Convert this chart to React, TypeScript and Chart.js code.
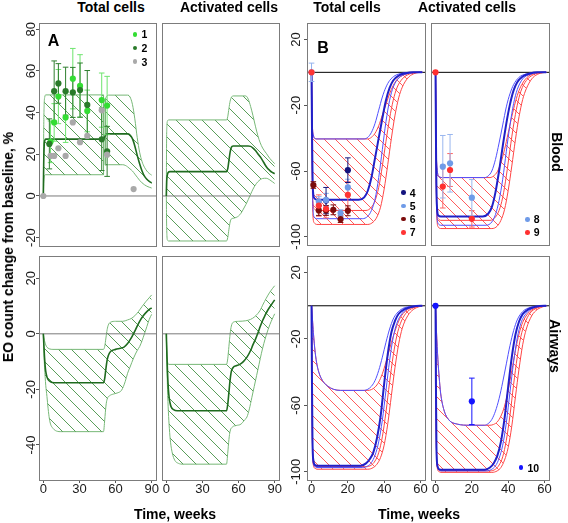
import React, { useEffect, useRef } from 'react';
import { Chart, registerables } from 'chart.js';

Chart.register(...registerables);

type XY = [number, number];
const FONT = 'Arial, "Liberation Sans", Helvetica, sans-serif';

// ---------------- axis ticks & ranges ----------------
const A_X_TICKS = [0, 30, 60, 90];
const B_X_TICKS = [0, 20, 40, 60];
const A_TOP_Y_TICKS = [-20, 0, 20, 40, 60, 80];
const A_BOT_Y_TICKS = [-40, -20, 0, 20];
const B_Y_TICKS = [-100, -60, -20, 20];
const A_X_RANGE: XY = [-3.6, 93.6];
const B_X_RANGE: XY = [-2.5, 62.5];
const A_TOP_Y_RANGE: XY = [-24, 83];
const A_BOT_Y_RANGE: XY = [-52.6, 28];
const B_Y_RANGE: XY = [-105, 30];

// ---------------- observed data: panel A (blood, total cells) ----------------
const s1_x = [6, 9, 12.5, 18.5, 24.5, 30.5, 36.5, 48.5, 53];
const s1_y = [26, 35.3, 47.7, 37.7, 56.3, 52.8, 40.8, 46, 43.4];
const s1_e = [10, 9, 13, 12, 14.5, 15, 10, 13, 14];
const s2_x = [5, 9, 12.5, 18.5, 24.5, 30.5, 36.5, 48.5, 53];
const s2_y = [25, 50.3, 54, 50.3, 49.7, 50.8, 43.7, 27.2, 21.4];
const s2_e = [12, 14.5, 9.5, 11.5, 12, 13, 16.5, 15, 12];
const s3_x = [0, 6, 9, 12.5, 18.5, 24.5, 30.5, 36.5, 48.5, 53, 75];
const s3_y = [0, 19.2, 19.2, 22.9, 19.2, 35.3, 25.8, 28.8, 41.1, 19.8, 3.3];

// ---------------- observed data: panel B ----------------
const s4_x = [8, 20];
const s4_y = [-78, -59.5];
const s4_e = [8, 7.5];
const s5_x = [0, 4, 8, 16, 20];
const s5_y = [0, -78.6, -77.6, -85.6, -70];
const s5_e = [5.6, 3, 4, 2, 5];
const s6_x = [1, 4, 8, 12, 16, 20];
const s6_y = [-68.5, -84, -84, -83.6, -89.3, -84.2];
const s6_e = [2, 3, 3, 3, 2, 3];
const s7_x = [0, 4, 8, 20];
const s7_y = [0, -81, -83, -74.5];
const s7_e = [0, 6.5, 5.5, 8];
const s8_x = [4, 8, 20];
const s8_y = [-57.4, -55.3, -76.2];
const s8_e = [19, 17.5, 11];
const s9_x = [0, 4, 8, 20];
const s9_y = [0, -69.5, -59.4, -89.1];
const s9_e = [0, 13, 10, 5];
const s10_x = [0, 20];
const s10_y = [0, -57.6];
const s10_e = [0, 14];

// ---------------- model curves: panel A ----------------
const A1_up1: XY[] = [[0,0],[0.3,30],[0.7,44],[1.2,47.5],[2,48.5],[50,48.5]];
const A1_lo1: XY[] = [[0,0],[0.3,6],[0.7,9],[1.2,10],[2,10.2],[50,10.2]];
const A1_up2: XY[] = [[51.5,46.5],[52.5,47.8],[54,48.4],[70,48.4],[72,47.5],[74,44],[76,37],[78,28],[80,21],[82,16.5],[84,13.8],[86,12],[88,10.8],[90,10]];
const A1_lo2: XY[] = [[51.5,14.8],[54,15],[66,15],[68,14.7],[70,14],[72,13],[74,12],[76,10.5],[78,9],[80,7.5],[82,6.3],[84,5.4],[86,4.7],[88,4.2],[90,3.8]];
const A1_med: XY[] = [[0,0],[0.3,15],[0.7,24],[1.2,26.5],[2,27.3],[50,27.3],[51,28.4],[52,29.5],[53,29.8],[70,29.8],[72,29.2],[74,27.5],[76,24],[78,19.5],[80,15.5],[82,12],[84,9.5],[86,8],[88,7],[90,6.3]];

const A2_up: XY[] = [[0,0],[0.2,25],[0.5,34],[1,36],[2,36.5],[50,36.5],[51,38],[52,42],[53,45.5],[54,47.3],[55.5,48],[66,48],[68,46.5],[70,43],[72,38.5],[74,33.5],[76,29],[78,25.5],[80,23],[83,20.5],[86,18],[90,15.5]];
const A2_med: XY[] = [[0,0],[0.3,7],[0.8,10],[1.5,11.3],[3,11.7],[50,11.7],[51,13],[52,17],[53,21],[54,23.3],[55.5,24],[68,24],[70,23.8],[72,23],[74,21.8],[76,20.3],[78,18.8],[80,17],[82,15],[84,13.3],[86,12.2],[88,11.3],[90,10.7]];
const A2_lo: XY[] = [[0,0],[0.2,-12],[0.5,-19],[1,-21.2],[2,-21.6],[50,-21.6],[51,-20],[52,-16],[53,-12.5],[54,-11],[55.5,-10.7],[58,-10.3],[60,-9.6],[62,-8.3],[64,-6.3],[66,-4.2],[68,-1.8],[70,0.8],[72,3.3],[74,5.3],[76,6.8],[78,7.8],[80,8.4],[83,8.5],[86,7.7],[90,6]];

const A3_up: XY[] = [[0,0],[1,-2.5],[2,-4],[3,-4.8],[5,-5.4],[8,-5.6],[50,-5.6],[51,-4.5],[52,-1.5],[53,1.5],[54,3.2],[56,4.2],[60,4.5],[66,4.5],[70,5],[73,5.5],[76,6.5],[79,8],[82,9.8],[85,11.5],[88,13],[90,14]];
const A3_med: XY[] = [[0,0],[0.5,-4.5],[1,-8.5],[1.5,-11.5],[2,-13.5],[3,-15.5],[4,-16.5],[6,-17.3],[9,-17.6],[50,-17.6],[51,-16],[52,-12.5],[53,-9.5],[54,-7.8],[56,-6.3],[60,-5.6],[64,-5.2],[67,-4.8],[70,-3.5],[72,-2.2],[74,-0.7],[76,1],[78,2.8],[80,4.5],[83,6.5],[86,8],[88,8.8],[90,9.3]];
const A3_lo: XY[] = [[0,0],[0.5,-7],[1,-12],[1.5,-15.5],[2,-18.5],[3,-22.5],[4,-27],[5,-30.5],[6,-32.5],[8,-34],[10,-34.8],[14,-35.2],[50,-35.2],[51,-31],[52,-26],[53,-23.5],[55,-22.3],[58,-21.7],[62,-21.2],[65,-20.3],[68,-17.2],[70,-14.2],[72,-12],[75,-8.7],[78,-6],[80,-4.6],[82,-2.5],[84,0],[86,2.6],[88,5.2],[90,7]];

const A4_up: XY[] = [[0,0],[0.3,-5],[0.7,-9],[1.2,-10.5],[2,-11],[50,-11],[51,-9],[52,-4.5],[53,0],[54,2.8],[55.7,4.2],[60,4.5],[66,4.7],[70,5.2],[73,6],[76,7.3],[78,8.5],[80,10.3],[83,12.8],[86,15],[88,16.2],[90,17.3]];
const A4_med: XY[] = [[0,0],[0.5,-8],[1,-14],[1.7,-20],[2.5,-23.5],[3,-24.7],[4,-26.3],[6,-27.3],[9,-27.7],[50,-27.7],[51,-25.5],[52,-21],[53,-16.5],[54,-13.5],[55.7,-12],[58,-11.5],[61,-11],[64,-10],[67,-8.4],[70,-6],[72,-3.9],[74,-2],[76,0.2],[78,2.6],[80,4.8],[82,6.6],[84,8.3],[87,10.3],[90,12.2]];
const A4_lo: XY[] = [[0,0],[0.5,-12],[1,-20],[1.7,-28],[2.5,-34],[3.5,-39],[5,-43],[7,-45.5],[10,-46.6],[14,-46.9],[50,-46.9],[51,-43],[52,-38],[53,-35],[55,-33.5],[58,-33],[62,-32.5],[65,-31],[67,-29.9],[69,-27],[71,-23],[73,-19],[75,-15],[77,-11],[79,-7],[81,-3.5],[83,-0.5],[86,3.3],[90,7.2]];

// ---------------- model curves: panel B ----------------
const B1_bUp: XY[] = [[0,0],[0.4,-30],[1,-38],[2,-40.3],[3,-40.5],[29,-40.5],[31,-39.5],[33,-36.5],[35,-31],[37,-23],[39,-15],[41,-9],[43,-5],[46,-2],[50,-0.5],[55,0],[61,0]];
const B1_bMed: XY[] = [[0,0],[0.3,-40],[0.7,-70],[1.5,-76.5],[3,-77.5],[26,-77.5],[29,-76],[31,-72],[33,-64],[35,-52],[37,-40],[39,-28],[41,-17],[43,-9.5],[45,-5],[48,-2],[52,-0.5],[56,0],[61,0]];
const B1_bLo: XY[] = [[0,0],[0.3,-45],[0.7,-80],[1.5,-88],[3,-89],[28,-89],[31,-87.5],[33,-84],[35,-77],[37,-64],[39,-47],[41,-30],[43,-17],[45,-9],[48,-3.5],[52,-1],[56,-0.2],[61,0]];
const B1_rUp: XY[] = [[0,0],[0.4,-30],[1,-38],[2,-40.3],[3,-40.5],[31,-40.5],[33,-39.5],[35,-37],[37,-32.5],[39,-26],[41,-19.5],[43,-13],[45,-8],[47,-4.5],[50,-2],[54,-0.5],[58,0],[61,0]];
const B1_rMed: XY[] = [[0,0],[0.3,-45],[0.7,-78],[1.5,-83],[3,-84],[30,-84],[33,-82],[35,-78],[37,-70],[39,-57],[41,-42],[43,-28],[45,-17],[47,-9.5],[50,-4],[54,-1],[58,-0.2],[61,0]];
const B1_rLo: XY[] = [[0,0],[0.3,-50],[0.7,-86],[1.5,-91.5],[3,-92.5],[31,-92.5],[34,-91],[36,-88],[38,-82],[40,-71],[42,-56],[44,-40],[46,-26],[48,-15.5],[50,-9],[53,-3.5],[56,-1],[60,0],[61,0]];

const B2_bUp: XY[] = [[0,0],[0.3,-40],[0.8,-58],[2,-63.5],[4,-64],[27,-64],[29,-63],[31,-60],[33,-53],[35,-43],[37,-32],[39,-21],[41,-13],[43,-7.5],[46,-3],[50,-1],[54,-0.2],[61,0]];
const B2_bMed: XY[] = [[0,0],[0.3,-50],[0.7,-80],[1.5,-87],[3,-87.7],[26,-87.7],[29,-86],[31,-82],[33,-73],[35,-60],[37,-45],[39,-31],[41,-19.5],[43,-11],[45,-6],[48,-2.5],[52,-0.7],[56,0],[61,0]];
const B2_bLo: XY[] = [[0,0],[0.3,-52],[0.7,-85],[1.5,-92],[3,-93],[28,-93],[31,-91],[33,-86.5],[35,-78],[37,-65],[39,-48],[41,-32],[43,-19],[45,-10.5],[48,-4],[52,-1.2],[56,-0.2],[61,0]];
const B2_rUp: XY[] = [[0,0],[0.3,-40],[0.8,-58],[2,-63.5],[4,-64],[30,-64],[32,-63],[34,-60.5],[36,-55],[38,-47],[40,-37],[42,-27],[44,-18],[46,-11],[48,-6.5],[51,-2.5],[55,-0.6],[59,0],[61,0]];
const B2_rMed: XY[] = [[0,0],[0.3,-52],[0.7,-84],[1.5,-89],[3,-90],[30,-90],[33,-88],[35,-84],[37,-76],[39,-63],[41,-47],[43,-32],[45,-20],[47,-11.5],[50,-5],[54,-1.4],[58,-0.2],[61,0]];
const B2_rLo: XY[] = [[0,0],[0.3,-55],[0.7,-88],[1.5,-94],[3,-95],[31,-95],[34,-93.5],[36,-90],[38,-83.5],[40,-72],[42,-57],[44,-41],[46,-27],[48,-16.5],[50,-10],[53,-4],[56,-1.3],[60,-0.1],[61,0]];

const B3_bUp: XY[] = [[0,0],[0.5,-8],[1,-16],[2,-28],[3,-35.5],[4,-40],[5,-43],[7,-46.5],[9,-48.5],[12,-50.3],[16,-51],[29,-51],[31,-50.3],[33,-48.5],[35,-45],[37,-39],[39,-31],[41,-22],[43,-14],[45,-8],[47,-4.5],[50,-1.8],[54,-0.4],[58,0],[61,0]];
const B3_bMed: XY[] = [[0,0],[0.2,-40],[0.5,-80],[1,-93],[2,-96],[3,-96.4],[27,-96.4],[30,-95],[32,-92.5],[34,-88.5],[36,-80],[38,-67],[40,-47],[42,-29],[44,-16],[46,-9],[48,-4.8],[51,-2.2],[55,-0.7],[60,0],[61,0]];
const B3_bLo: XY[] = [[0,0],[0.2,-42],[0.5,-82],[1,-95],[2,-97],[3,-97.5],[28,-97.5],[31,-96.5],[33,-94.5],[35,-90],[37,-82],[39,-69],[41,-51],[43,-33],[45,-19],[47,-10.5],[50,-4.5],[54,-1.3],[58,-0.2],[61,0]];
const B3_rUp: XY[] = [[0,0],[0.5,-8],[1,-16],[2,-28],[3,-35.5],[4,-40],[5,-43],[7,-46.5],[9,-48.5],[12,-50.3],[16,-51],[31,-51],[33,-50.5],[35,-49],[37,-46],[39,-41],[41,-34],[43,-26],[45,-18.5],[47,-12],[49,-7],[52,-3],[56,-0.8],[60,0],[61,0]];
const B3_rMed: XY[] = [[0,0],[0.2,-42],[0.5,-82],[1,-95],[2,-96.5],[3,-97],[30,-97],[33,-96],[35,-93.5],[37,-88.5],[39,-79],[41,-64],[43,-46],[45,-30],[47,-18],[49,-10.5],[52,-4.5],[56,-1.3],[60,-0.1],[61,0]];
const B3_rLo: XY[] = [[0,0],[0.2,-42],[0.5,-83],[1,-96],[2,-98],[3,-98.5],[31,-98.5],[34,-97.5],[36,-95.5],[38,-91.5],[40,-84],[42,-71],[44,-54],[46,-37],[48,-23],[50,-13.5],[53,-6],[56,-2.3],[60,-0.3],[61,0]];

const B4_bUp: XY[] = [[0,0],[0.5,-15],[1.3,-32.5],[2,-43],[2.8,-52.6],[4.6,-62.7],[7.3,-68.7],[11.9,-71.3],[19,-72],[27,-72],[29,-71],[31,-68.5],[33,-63.5],[35,-56],[37,-46],[39,-35],[41,-24],[43,-15],[45,-8.5],[48,-3.5],[52,-1],[56,-0.2],[61,0]];
const B4_bMed: XY[] = [[0,0],[0.2,-45],[0.5,-85],[1,-96],[2,-98.5],[3,-98.8],[27,-98.8],[30,-97.5],[32,-95],[34,-90.5],[36,-82],[38,-68],[40,-49],[42,-31],[44,-17.5],[46,-9.5],[48,-5],[51,-2.2],[55,-0.6],[60,0],[61,0]];
const B4_bLo: XY[] = [[0,0],[0.2,-45],[0.5,-86],[1,-97],[2,-99],[3,-99.5],[28,-99.5],[31,-98.5],[33,-96.5],[35,-92],[37,-84],[39,-70.5],[41,-52],[43,-34],[45,-19.5],[47,-10.5],[50,-4.5],[54,-1.3],[58,-0.2],[61,0]];
const B4_rUp: XY[] = [[0,0],[0.5,-15],[1.3,-32.5],[2,-43],[2.8,-52.6],[4.6,-62.7],[7.3,-68.7],[11.9,-71.3],[19,-72],[30,-72],[32,-71.5],[34,-70],[36,-66.5],[38,-60.5],[40,-51],[42,-39],[44,-27],[46,-17],[48,-10],[51,-4.5],[55,-1.3],[59,-0.2],[61,0]];
const B4_rMed: XY[] = [[0,0],[0.2,-45],[0.5,-86],[1,-97],[2,-99],[3,-99.5],[30,-99.5],[33,-98.5],[35,-96],[37,-91],[39,-81],[41,-66],[43,-47.5],[45,-31],[47,-18.5],[49,-11],[52,-4.5],[56,-1.3],[60,-0.1],[61,0]];
const B4_rLo: XY[] = [[0,0],[0.2,-46],[0.5,-87],[1,-98],[2,-100],[3,-100.4],[31,-100.4],[34,-99.5],[36,-97.5],[38,-93],[40,-85.5],[42,-72.5],[44,-55],[46,-38],[48,-23.5],[50,-14],[53,-6],[56,-2.3],[60,-0.3],[61,0]];

// ---------------- colours ----------------
const C1 = '#33dd33', C1E = '#6ee46e';
const C2 = '#2a7a2a', C2E = '#2f7f2f';
const C3 = '#a9a9a9';
const C4 = '#14147e', C5 = '#6f9be8', C5E = '#93b2ee', C6 = '#7c0c0c', C7 = '#ff3434', C7E = '#ff6a6a';
const C8 = '#6f9be8', C8E = '#9ab7ef', C9 = '#ff2f2f', C9E = '#ff6464', C10 = '#1414ff';
const G_HATCH = '#5a9e5a', G_OUT = '#77b877', G_MED = '#1f6b1f', A_ZERO = '#7a7a7a';
const R_HATCH = '#ff5c5c', R_OUT = '#ff4444', B_THIN = '#5050ff', B_THICK = '#2020c8', B_ZERO = '#000000';

// ---------------- helpers ----------------
const pts = (a: XY[]) => a.map(([x, y]) => ({ x, y }));
const curve = (a: XY[], color: string, width: number, order: number, extra: any = {}) => ({
  data: pts(a), borderColor: color, borderWidth: width, pointRadius: 0, fill: false,
  cubicInterpolationMode: 'monotone', order, ...extra,
});
const band = (up: XY[], lo: XY[], outline: string, pat: CanvasPattern) => [
  curve(up, outline, 1, 10, { fill: '+1', backgroundColor: pat }),
  curve(lo, outline, 1, 10),
];
const straight = (a: XY[], color: string, width: number, order: number) => ({
  data: pts(a), borderColor: color, borderWidth: width, pointRadius: 0, fill: false, tension: 0, order,
});
const dots = (xs: number[], ys: number[], color: string, order: number) => ({
  data: xs.map((x, i) => ({ x, y: ys[i] })), showLine: false, pointRadius: 3.1,
  pointBackgroundColor: color, pointBorderColor: color, pointBorderWidth: 0, order,
});
const bars = (xs: number[], ys: number[], es: number[], color: string, order: number) => {
  const d: any[] = [];
  xs.forEach((x, i) => {
    if (!es[i]) return;
    d.push({ x, y: ys[i] - es[i] }, { x, y: ys[i] + es[i] }, { x, y: null });
  });
  return {
    data: d, borderColor: color, borderWidth: 1, tension: 0, spanGaps: false,
    pointStyle: 'line', pointRadius: 2.8, pointBorderColor: color, pointBorderWidth: 1, order,
  };
};
const zeroLine = (xr: XY, color: string, order: number) => straight([[xr[0], 0], [xr[1], 0]], color, 1, order);

function makeHatch(color: string, size: number): CanvasPattern {
  const c = document.createElement('canvas');
  c.width = size; c.height = size;
  const g = c.getContext('2d')!;
  g.strokeStyle = color; g.lineWidth = 1;
  g.beginPath();
  for (const o of [-size, 0, size]) { g.moveTo(o, 0); g.lineTo(o + size, size); }
  g.stroke();
  return g.createPattern(c, 'repeat')!;
}

function measureWidest(labels: string[], font: string) {
  const g = document.createElement('canvas').getContext('2d')!;
  g.font = font;
  return Math.max(...labels.map(l => g.measureText(l).width));
}

const framePlugin = {
  id: 'frame',
  afterDraw(chart: any) {
    const { ctx, chartArea: a } = chart;
    ctx.save();
    ctx.strokeStyle = '#7c7c7c';
    ctx.lineWidth = 1;
    ctx.strokeRect(Math.round(a.left) + 0.5, Math.round(a.top) + 0.5, Math.round(a.right - a.left), Math.round(a.bottom - a.top));
    ctx.restore();
  },
};

interface PanelDef {
  id: string;
  L: number; T: number; R: number; B: number;
  xr: XY; yr: XY;
  xt: number[] | null; yt: number[] | null;
  gap: number;
  hatch: string; hatchSize: number;
  build: (pat: CanvasPattern) => any[];
}

const Y_W = 30, X_H = 20, PAD_T = 8, PAD_R = 10, PAD_B = 8, TL = 3;

function PanelChart({ def }: { def: PanelDef }) {
  const ref = useRef<HTMLCanvasElement>(null);
  const yW = def.yt ? Y_W : 0;
  const bottomExtra = def.xt ? X_H : PAD_B;
  const width = yW + (def.R - def.L) + PAD_R;
  const height = PAD_T + (def.B - def.T) + bottomExtra;
  useEffect(() => {
    const canvas = ref.current!;
    const pat = makeHatch(def.hatch, def.hatchSize);
    const tickFont = { family: FONT, size: 13 };
    const yLabels = (def.yt || []).map(String);
    const widest = yLabels.length ? measureWidest(yLabels, `13px ${FONT}`) : 0;
    const yPad = def.gap - TL - widest / 2;
    const grid = { display: true, drawOnChartArea: false, drawTicks: true, tickLength: TL, color: '#555555' };
    const chart = new Chart(canvas, {
      type: 'line',
      data: { datasets: def.build(pat) },
      options: {
        animation: false, responsive: false, devicePixelRatio: 1, events: [],
        layout: { padding: { top: PAD_T, right: PAD_R, bottom: def.xt ? 0 : PAD_B, left: 0 }, autoPadding: false },
        plugins: { legend: { display: false }, tooltip: { enabled: false }, title: { display: false } },
        scales: {
          x: {
            type: 'linear', min: def.xr[0], max: def.xr[1], display: !!def.xt,
            afterBuildTicks: (s: any) => { s.ticks = (def.xt || []).map(v => ({ value: v })); },
            ...(def.xt ? { afterFit: (s: any) => { s.height = X_H; s.paddingLeft = 0; s.paddingRight = 0; } } : {}),
            grid, border: { display: false },
            ticks: { autoSkip: false, maxRotation: 0, minRotation: 0, padding: -1, color: '#1a1a1a', font: tickFont, callback: (v: any) => String(v) },
          },
          y: {
            type: 'linear', min: def.yr[0], max: def.yr[1], display: !!def.yt, position: 'left',
            afterBuildTicks: (s: any) => { s.ticks = (def.yt || []).map(v => ({ value: v })); },
            ...(def.yt ? { afterFit: (s: any) => { s.width = Y_W; s.paddingTop = 0; s.paddingBottom = 0; } } : {}),
            grid, border: { display: false },
            ticks: { autoSkip: false, minRotation: 90, maxRotation: 90, crossAlign: 'center', padding: yPad, color: '#1a1a1a', font: tickFont, callback: (v: any) => String(v) },
          },
        },
      } as any,
      plugins: [framePlugin],
    } as any);
    return () => chart.destroy();
  }, []);
  return (
    <canvas ref={ref} width={width} height={height}
      style={{ position: 'absolute', left: def.L - yW, top: def.T - PAD_T, width, height }} />
  );
}

const PANELS: PanelDef[] = [
  {
    id: 'A1', L: 39, T: 23, R: 156, B: 246, xr: A_X_RANGE, yr: A_TOP_Y_RANGE, xt: null, yt: A_TOP_Y_TICKS, gap: 8,
    hatch: G_HATCH, hatchSize: 13,
    build: pat => [
      ...band(A1_up1, A1_lo1, G_OUT, pat),
      ...band(A1_up2, A1_lo2, G_OUT, pat),
      straight([A1_up1[A1_up1.length - 1], A1_lo1[A1_lo1.length - 1]], G_OUT, 1, 9),
      straight([A1_up2[0], A1_lo2[0]], G_OUT, 1, 9),
      zeroLine(A_X_RANGE, A_ZERO, 7),
      curve(A1_med, G_MED, 1.6, 6),
      bars(s1_x, s1_y, s1_e, C1E, 3),
      bars(s2_x, s2_y, s2_e, C2E, 2.5),
      dots(s1_x, s1_y, C1, 1),
      dots(s2_x, s2_y, C2, 0.5),
      dots(s3_x, s3_y, C3, 0),
    ],
  },
  {
    id: 'A2', L: 162, T: 23, R: 279, B: 246, xr: A_X_RANGE, yr: A_TOP_Y_RANGE, xt: null, yt: null, gap: 8,
    hatch: G_HATCH, hatchSize: 13,
    build: pat => [
      ...band(A2_up, A2_lo, G_OUT, pat),
      zeroLine(A_X_RANGE, A_ZERO, 7),
      curve(A2_med, G_MED, 1.6, 6),
    ],
  },
  {
    id: 'A3', L: 39, T: 256, R: 156, B: 480, xr: A_X_RANGE, yr: A_BOT_Y_RANGE, xt: A_X_TICKS, yt: A_BOT_Y_TICKS, gap: 8,
    hatch: G_HATCH, hatchSize: 13,
    build: pat => [
      ...band(A3_up, A3_lo, G_OUT, pat),
      zeroLine(A_X_RANGE, A_ZERO, 7),
      curve(A3_med, G_MED, 1.6, 6),
    ],
  },
  {
    id: 'A4', L: 162, T: 256, R: 279, B: 480, xr: A_X_RANGE, yr: A_BOT_Y_RANGE, xt: A_X_TICKS, yt: null, gap: 8,
    hatch: G_HATCH, hatchSize: 13,
    build: pat => [
      ...band(A4_up, A4_lo, G_OUT, pat),
      zeroLine(A_X_RANGE, A_ZERO, 7),
      curve(A4_med, G_MED, 1.6, 6),
    ],
  },
  {
    id: 'B1', L: 307, T: 23, R: 425, B: 245, xr: B_X_RANGE, yr: B_Y_RANGE, xt: null, yt: B_Y_TICKS, gap: 11,
    hatch: R_HATCH, hatchSize: 11,
    build: pat => [
      ...band(B1_rUp, B1_rLo, R_OUT, pat),
      zeroLine(B_X_RANGE, B_ZERO, 9),
      curve(B1_rMed, R_OUT, 1, 8),
      curve(B1_bUp, B_THIN, 1, 7),
      curve(B1_bLo, B_THIN, 1, 7),
      curve(B1_bMed, B_THICK, 2, 6),
      bars(s4_x, s4_y, s4_e, C4, 3),
      bars(s5_x, s5_y, s5_e, C5E, 3),
      bars(s6_x, s6_y, s6_e, C6, 3),
      bars(s7_x, s7_y, s7_e, C7E, 3),
      dots(s4_x, s4_y, C4, 1.5),
      dots(s5_x, s5_y, C5, 1),
      dots(s6_x, s6_y, C6, 0.5),
      dots(s7_x, s7_y, C7, 0),
    ],
  },
  {
    id: 'B2', L: 431, T: 23, R: 549, B: 245, xr: B_X_RANGE, yr: B_Y_RANGE, xt: null, yt: null, gap: 11,
    hatch: R_HATCH, hatchSize: 11,
    build: pat => [
      ...band(B2_rUp, B2_rLo, R_OUT, pat),
      zeroLine(B_X_RANGE, B_ZERO, 9),
      curve(B2_rMed, R_OUT, 1, 8),
      curve(B2_bUp, B_THIN, 1, 7),
      curve(B2_bLo, B_THIN, 1, 7),
      curve(B2_bMed, B_THICK, 2, 6),
      bars(s8_x, s8_y, s8_e, C8E, 3),
      bars(s9_x, s9_y, s9_e, C9E, 3),
      dots(s8_x, s8_y, C8, 1),
      dots(s9_x, s9_y, C9, 0),
    ],
  },
  {
    id: 'B3', L: 307, T: 256, R: 425, B: 480, xr: B_X_RANGE, yr: B_Y_RANGE, xt: B_X_TICKS, yt: B_Y_TICKS, gap: 11,
    hatch: R_HATCH, hatchSize: 11,
    build: pat => [
      ...band(B3_rUp, B3_rLo, R_OUT, pat),
      zeroLine(B_X_RANGE, B_ZERO, 9),
      curve(B3_rMed, R_OUT, 1, 8),
      curve(B3_bUp, B_THIN, 1, 7),
      curve(B3_bLo, B_THIN, 1, 7),
      curve(B3_bMed, B_THICK, 2, 6),
    ],
  },
  {
    id: 'B4', L: 431, T: 256, R: 549, B: 480, xr: B_X_RANGE, yr: B_Y_RANGE, xt: B_X_TICKS, yt: null, gap: 11,
    hatch: R_HATCH, hatchSize: 11,
    build: pat => [
      ...band(B4_rUp, B4_rLo, R_OUT, pat),
      zeroLine(B_X_RANGE, B_ZERO, 9),
      curve(B4_rMed, R_OUT, 1, 8),
      curve(B4_bUp, B_THIN, 1, 7),
      curve(B4_bLo, B_THIN, 1, 7),
      curve(B4_bMed, B_THICK, 2, 6),
      bars(s10_x, s10_y, s10_e, C10, 3),
      dots(s10_x, s10_y, C10, 0),
    ],
  },
];

// ---------------- text ----------------
function Label({ x, y, text, size = 14, bold = true, rot = 0 }: { x: number; y: number; text: string; size?: number; bold?: boolean; rot?: number }) {
  return (
    <div style={{
      position: 'absolute', left: x, top: y, transform: `translate(-50%,-50%) rotate(${rot}deg)`,
      fontSize: size, fontWeight: bold ? 700 : 400, lineHeight: 1, whiteSpace: 'nowrap', color: '#000',
    }}>{text}</div>
  );
}

function LegendItem({ x, y, color, text }: { x: number; y: number; color: string; text: string }) {
  return (
    <>
      <div style={{ position: 'absolute', left: x - 2.3, top: y - 2.3, width: 4.6, height: 4.6, borderRadius: '50%', background: color }} />
      <div style={{ position: 'absolute', left: x + 6.5, top: y, transform: 'translateY(-50%)', fontSize: 10.5, fontWeight: 700, lineHeight: 1, color: '#000' }}>{text}</div>
    </>
  );
}

const LEGEND_A = [{ t: '1', c: C1 }, { t: '2', c: C2 }, { t: '3', c: C3 }];
const LEGEND_B1 = [{ t: '4', c: C4 }, { t: '5', c: C5 }, { t: '6', c: C6 }, { t: '7', c: C7 }];
const LEGEND_B2 = [{ t: '8', c: C8 }, { t: '9', c: C9 }];
const LEGEND_B4 = [{ t: '10', c: C10 }];

export default function App() {
  return (
    <div style={{ position: 'absolute', left: 0, top: 0, width: 568, height: 523, background: '#fff', overflow: 'hidden', fontFamily: FONT }}>
      {PANELS.map(p => <PanelChart key={p.id} def={p} />)}
      <Label x={111} y={7} text="Total cells" />
      <Label x={229} y={7} text="Activated cells" />
      <Label x={347} y={7} text="Total cells" />
      <Label x={467} y={7} text="Activated cells" />
      <Label x={175} y={514} text="Time, weeks" />
      <Label x={419} y={514} text="Time, weeks" />
      <Label x={8} y={247} text="EO count change from baseline, %" rot={-90} />
      <Label x={557} y={152} text="Blood" rot={90} />
      <Label x={555} y={346} text="Airways" rot={90} />
      <Label x={53.5} y={41} text="A" size={16} />
      <Label x={323} y={48} text="B" size={16} />
      {LEGEND_A.map((l, i) => <LegendItem key={l.t} x={135} y={34.3 + i * 13.7} color={l.c} text={l.t} />)}
      {LEGEND_B1.map((l, i) => <LegendItem key={l.t} x={403.3} y={192.7 + i * 13.2} color={l.c} text={l.t} />)}
      {LEGEND_B2.map((l, i) => <LegendItem key={l.t} x={527.3} y={219.3 + i * 13} color={l.c} text={l.t} />)}
      {LEGEND_B4.map((l, i) => <LegendItem key={l.t} x={521} y={467.7 + i * 13} color={l.c} text={l.t} />)}
    </div>
  );
}
